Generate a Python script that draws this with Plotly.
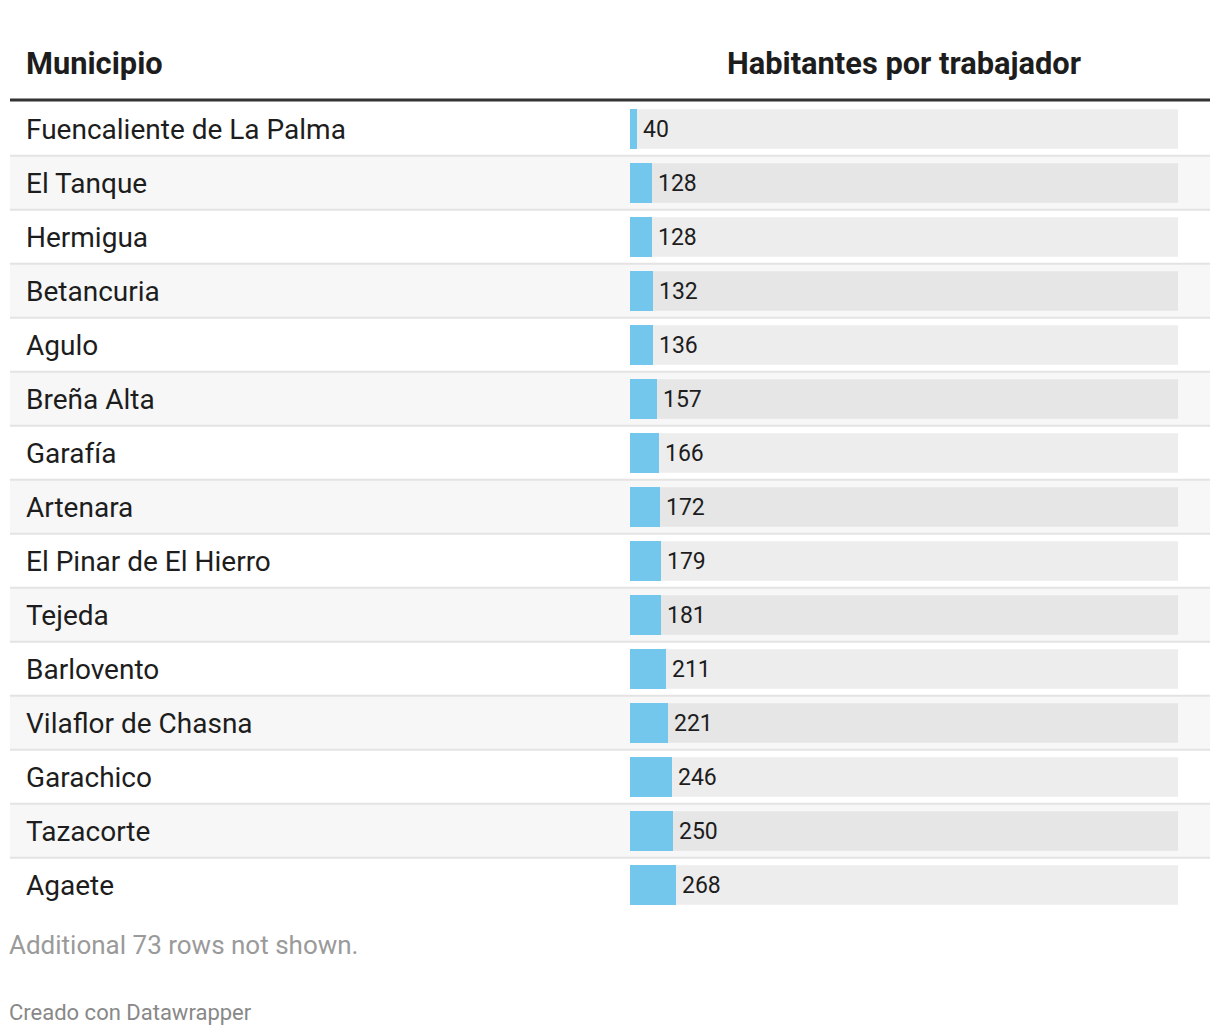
import plotly.graph_objects as go

# ---- data ----
municipios = [
    "Fuencaliente de La Palma", "El Tanque", "Hermigua", "Betancuria", "Agulo",
    "Breña Alta", "Garafía", "Artenara", "El Pinar de El Hierro", "Tejeda",
    "Barlovento", "Vilaflor de Chasna", "Garachico", "Tazacorte", "Agaete",
]
habitantes_por_trabajador = [40, 128, 128, 132, 136, 157, 166, 172, 179, 181,
                             211, 221, 246, 250, 268]
col_header_name = "Municipio"
col_header_value = "Habitantes por trabajador"
note_text = "Additional 73 rows not shown."
credit_text = "Creado con Datawrapper"
scale_max = 3190  # column scale maximum (bars drawn on shared axis)

# ---- layout geometry (page pixels) ----
OFF = 8  # default body margin of the html page
W, H = 1220 - 2 * OFF, 1036 - 2 * OFF
TABLE_L, TABLE_R = 10, 1210
BAR_L, BAR_R = 630, 1178
ROWS_TOP = 102
ROW_H = 54
n = len(municipios)
ROWS_BOT = ROWS_TOP + ROW_H * n


def px_x(p):
    return (p - OFF) / W


def px_y(p):
    return 1 - (p - OFF) / H


FONT = "Roboto"
TEXT_COL = "#1d1d1d"
BLUE = "#74c7ec"

fig = go.Figure()

fig.add_trace(go.Bar(
    x=habitantes_por_trabajador,
    y=municipios,
    orientation="h",
    marker=dict(color=BLUE, line=dict(width=0)),
    width=0.735,
    hoverinfo="x+y",
))

shapes = []
# zebra row backgrounds + bar tracks
for i in range(n):
    if i % 2 == 1:
        shapes.append(dict(type="rect", xref="paper", yref="y",
                           x0=px_x(TABLE_L), x1=px_x(TABLE_R),
                           y0=i - 0.5, y1=i + 0.5,
                           fillcolor="#f7f7f7", line=dict(width=0), layer="below"))
    shapes.append(dict(type="rect", xref="x domain", yref="y",
                       x0=0, x1=1, y0=i - 0.3675, y1=i + 0.3675,
                       fillcolor="#e6e6e6" if i % 2 == 1 else "#ededed",
                       line=dict(width=0), layer="below"))
# row separators
for i in range(n - 1):
    shapes.append(dict(type="line", xref="paper", yref="y",
                       x0=px_x(TABLE_L), x1=px_x(TABLE_R),
                       y0=i + 0.5 - 0.005, y1=i + 0.5 - 0.005,
                       line=dict(color="#e3e3e3", width=2), layer="below"))
# header rule
shapes.append(dict(type="line", xref="paper", yref="paper",
                   x0=px_x(TABLE_L), x1=px_x(TABLE_R),
                   y0=px_y(100), y1=px_y(100),
                   line=dict(color="#333333", width=3)))

annotations = []
for i, (name, val) in enumerate(zip(municipios, habitantes_por_trabajador)):
    annotations.append(dict(x=px_x(24), y=name, xref="paper", yref="y",
                            text=name, showarrow=False, xanchor="left",
                            yanchor="middle",
                            font=dict(family=FONT, size=28, color=TEXT_COL)))
    annotations.append(dict(x=val, y=name, xref="x", yref="y",
                            text=str(val), showarrow=False, xanchor="left",
                            yanchor="middle", xshift=4,
                            font=dict(family=FONT, size=23, color=TEXT_COL)))

annotations += [
    dict(x=px_x(24), y=px_y(63), xref="paper", yref="paper",
         text="<b>" + col_header_name + "</b>", showarrow=False,
         xanchor="left", yanchor="middle",
         font=dict(family=FONT, size=30.8, color=TEXT_COL)),
    dict(x=px_x((BAR_L + BAR_R) / 2), y=px_y(63), xref="paper", yref="paper",
         text="<b>" + col_header_value + "</b>", showarrow=False,
         xanchor="center", yanchor="middle",
         font=dict(family=FONT, size=30.8, color=TEXT_COL)),
    dict(x=px_x(7), y=px_y(945), xref="paper", yref="paper",
         text=note_text, showarrow=False, xanchor="left", yanchor="middle",
         font=dict(family=FONT, size=26, color="#9a9a9a")),
    dict(x=px_x(7), y=px_y(1012), xref="paper", yref="paper",
         text=credit_text, showarrow=False, xanchor="left", yanchor="middle",
         font=dict(family=FONT, size=22, color="#888888")),
]

fig.update_layout(
    width=W, height=H,
    margin=dict(l=0, r=0, t=0, b=0),
    paper_bgcolor="white", plot_bgcolor="rgba(0,0,0,0)",
    showlegend=False,
    bargap=0,
    shapes=shapes,
    annotations=annotations,
    xaxis=dict(domain=[px_x(BAR_L), px_x(BAR_R)], range=[0, scale_max],
               showgrid=False, zeroline=False, showticklabels=False,
               fixedrange=True),
    yaxis=dict(domain=[px_y(ROWS_BOT), px_y(ROWS_TOP)],
               categoryorder="array", categoryarray=municipios,
               range=[n - 0.5, -0.5],
               showgrid=False, zeroline=False, showticklabels=False,
               fixedrange=True),
)

fig.write_html("out.html")
